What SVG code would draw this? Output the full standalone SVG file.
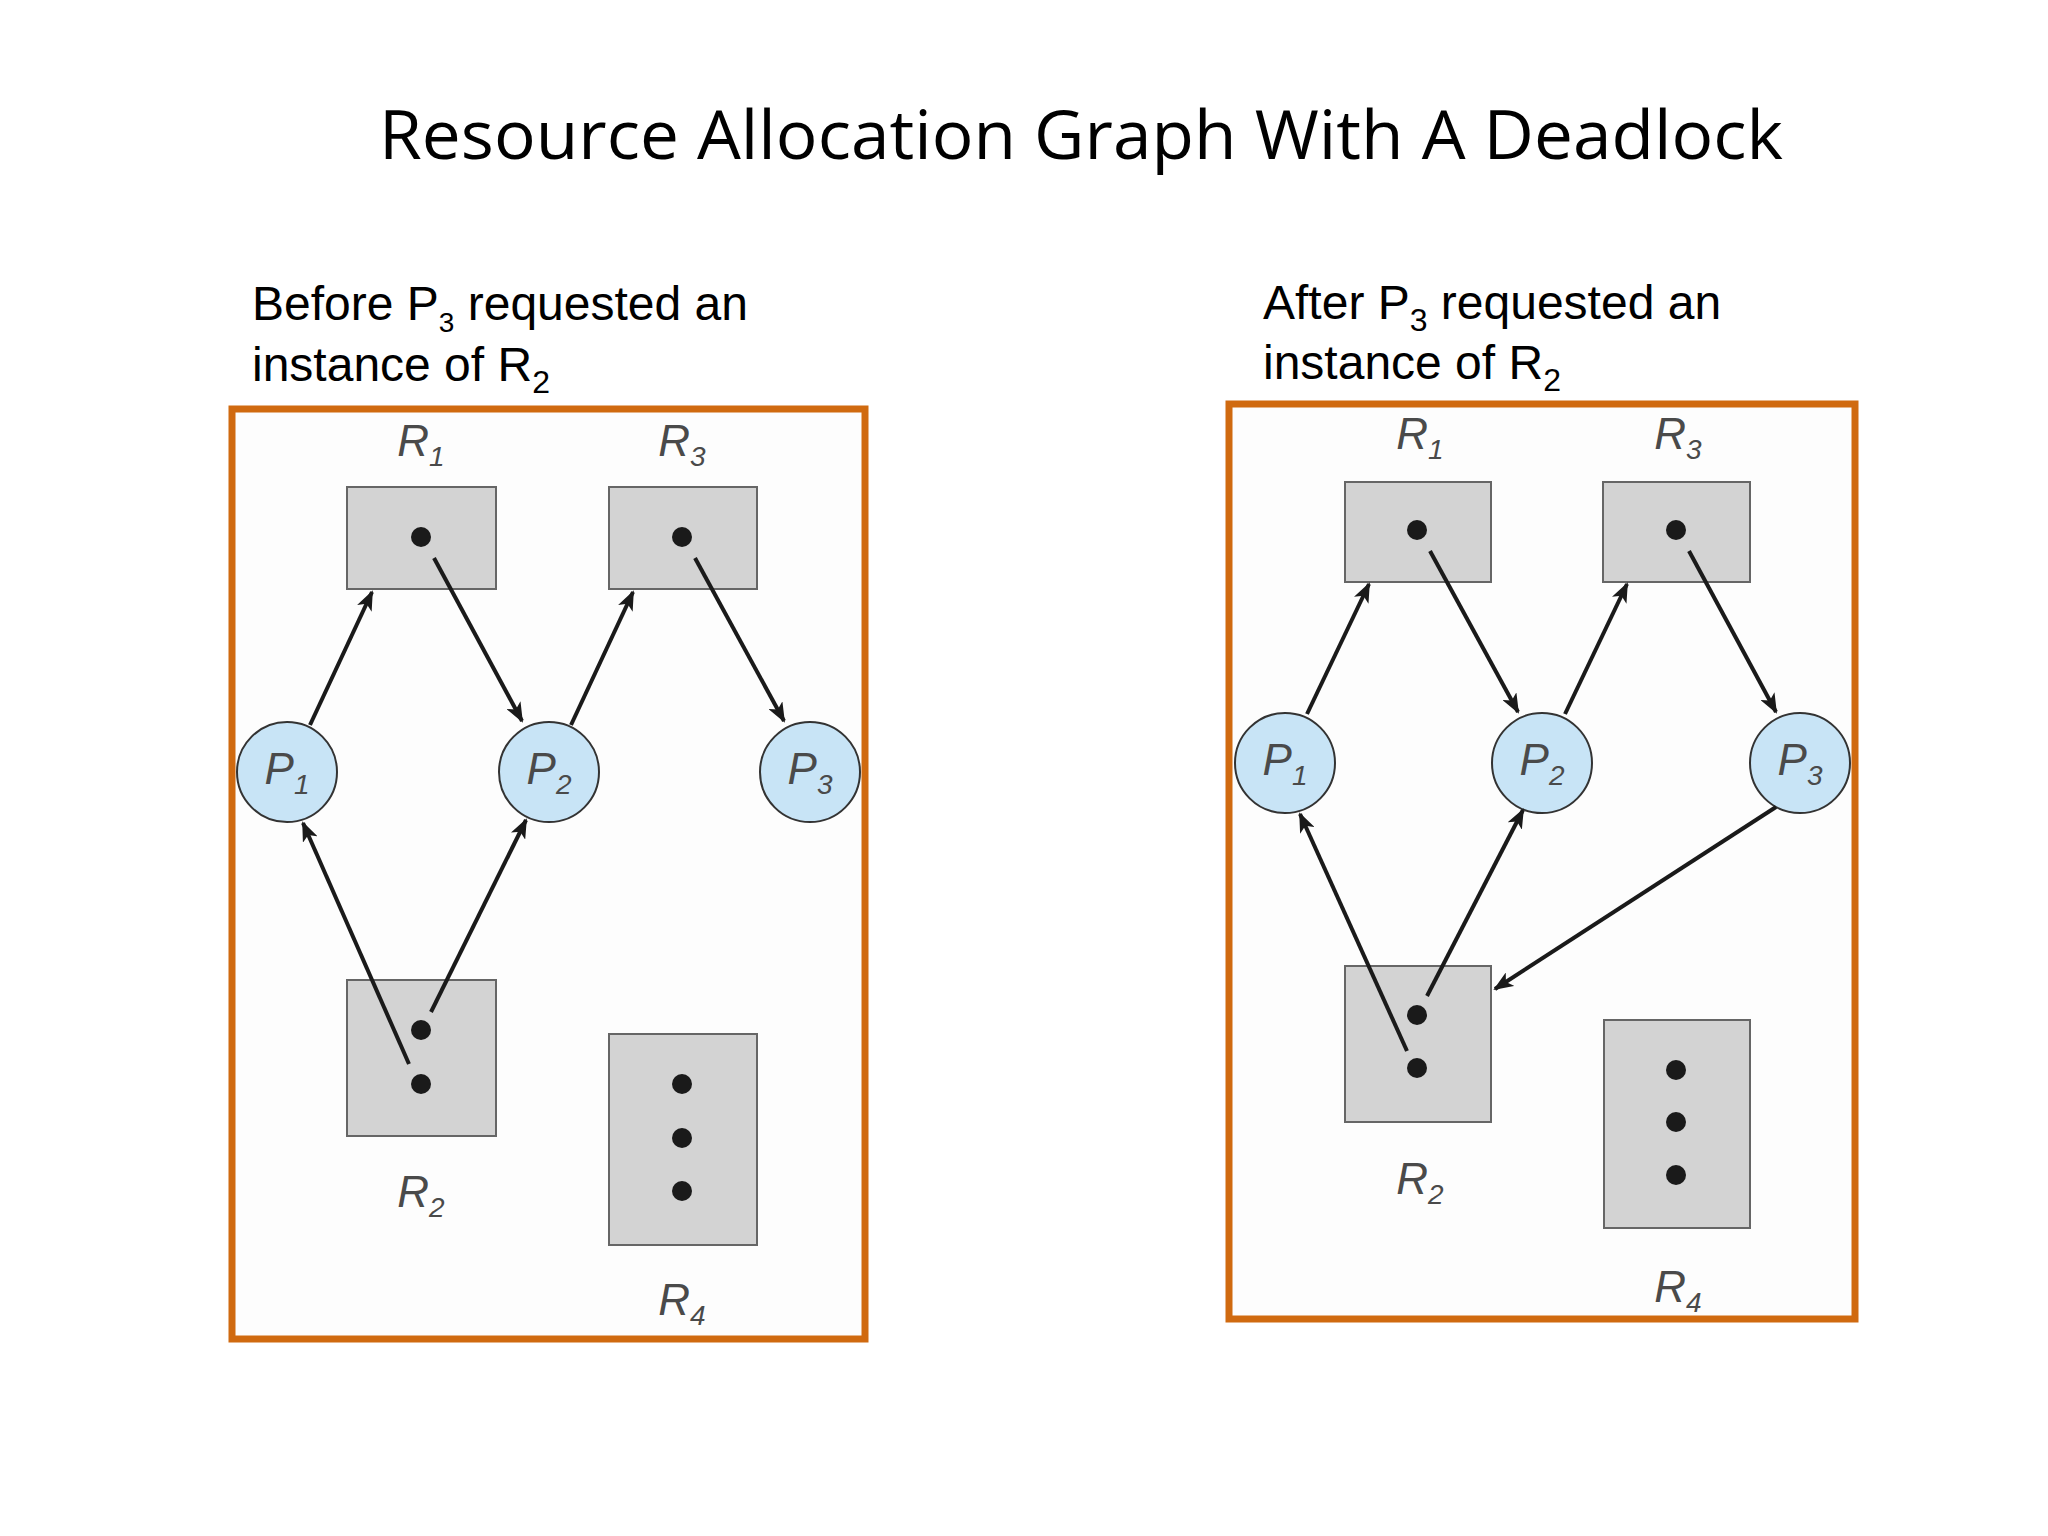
<svg xmlns="http://www.w3.org/2000/svg" width="2048" height="1536" viewBox="0 0 2048 1536">
<defs>
<marker id="ah" markerUnits="userSpaceOnUse" markerWidth="20" markerHeight="16" refX="18" refY="8" orient="auto"><path d="M0,0 L20,8 L0,16 L5,8 Z" fill="#1a1a1a"/></marker>
</defs>
<style>
.frame{fill:#fdfdfd;stroke:#D06A10;stroke-width:7}
.res{fill:#d3d3d3;stroke:#666;stroke-width:2}
.dot{fill:#1a1a1a}
.proc{fill:#c8e4f6;stroke:#333;stroke-width:2}
.lbl{font-family:"Liberation Sans",Arial,sans-serif;font-style:italic;font-size:44px;fill:#4a4a4a;text-anchor:middle}
.sub{font-size:28px}
.cap{font-family:"Liberation Sans",Arial,sans-serif;font-size:48px;fill:#000}
.e{stroke:#1a1a1a;stroke-width:4;fill:none;marker-end:url(#ah)}
</style>
<rect width="2048" height="1536" fill="#fff"/>
<text x="1081" y="159" font-family="Open Sans,Liberation Sans,sans-serif" font-size="68" text-anchor="middle" textLength="1404" lengthAdjust="spacingAndGlyphs">Resource Allocation Graph With A Deadlock</text>
<text class="cap" x="252" y="320">Before P<tspan class="sub" font-size="32" dy="12">3</tspan><tspan dy="-12"> requested an</tspan></text>
<text class="cap" x="252" y="381">instance of R<tspan font-size="32" dy="12">2</tspan></text>
<text class="cap" x="1263" y="319">After P<tspan font-size="32" dy="12">3</tspan><tspan dy="-12"> requested an</tspan></text>
<text class="cap" x="1263" y="379">instance of R<tspan font-size="32" dy="12">2</tspan></text>

<rect class="frame" x="232" y="409" width="633" height="930"/>
<rect class="frame" x="1229" y="404" width="626" height="915"/>

<g id="L_R1"><rect class="res" x="347" y="487" width="149" height="102"/><circle class="dot" cx="421" cy="537" r="10"/><text class="lbl" x="421" y="456">R<tspan class="sub" dy="10">1</tspan></text></g>
<g id="L_R3"><rect class="res" x="609" y="487" width="148" height="102"/><circle class="dot" cx="682" cy="537" r="10"/><text class="lbl" x="682" y="456">R<tspan class="sub" dy="10">3</tspan></text></g>
<g id="L_R2"><rect class="res" x="347" y="980" width="149" height="156"/><circle class="dot" cx="421" cy="1030" r="10"/><circle class="dot" cx="421" cy="1084" r="10"/><text class="lbl" x="421" y="1207">R<tspan class="sub" dy="10">2</tspan></text></g>
<g id="L_R4"><rect class="res" x="609" y="1034" width="148" height="211"/><circle class="dot" cx="682" cy="1084" r="10"/><circle class="dot" cx="682" cy="1138" r="10"/><circle class="dot" cx="682" cy="1191" r="10"/><text class="lbl" x="682" y="1315">R<tspan class="sub" dy="10">4</tspan></text></g>
<g id="L_P1"><circle class="proc" cx="287" cy="772" r="50"/><text class="lbl" x="287" y="784">P<tspan class="sub" dy="10">1</tspan></text></g>
<g id="L_P2"><circle class="proc" cx="549" cy="772" r="50"/><text class="lbl" x="549" y="784">P<tspan class="sub" dy="10">2</tspan></text></g>
<g id="L_P3"><circle class="proc" cx="810" cy="772" r="50"/><text class="lbl" x="810" y="784">P<tspan class="sub" dy="10">3</tspan></text></g>

<g id="R_R1"><rect class="res" x="1345" y="482" width="146" height="100"/><circle class="dot" cx="1417" cy="530" r="10"/><text class="lbl" x="1420" y="449">R<tspan class="sub" dy="10">1</tspan></text></g>
<g id="R_R3"><rect class="res" x="1603" y="482" width="147" height="100"/><circle class="dot" cx="1676" cy="530" r="10"/><text class="lbl" x="1678" y="449">R<tspan class="sub" dy="10">3</tspan></text></g>
<g id="R_R2"><rect class="res" x="1345" y="966" width="146" height="156"/><circle class="dot" cx="1417" cy="1015" r="10"/><circle class="dot" cx="1417" cy="1068" r="10"/><text class="lbl" x="1420" y="1194">R<tspan class="sub" dy="10">2</tspan></text></g>
<g id="R_R4"><rect class="res" x="1604" y="1020" width="146" height="208"/><circle class="dot" cx="1676" cy="1070" r="10"/><circle class="dot" cx="1676" cy="1122" r="10"/><circle class="dot" cx="1676" cy="1175" r="10"/><text class="lbl" x="1678" y="1302">R<tspan class="sub" dy="10">4</tspan></text></g>
<g id="R_P1"><circle class="proc" cx="1285" cy="763" r="50"/><text class="lbl" x="1285" y="775">P<tspan class="sub" dy="10">1</tspan></text></g>
<g id="R_P2"><circle class="proc" cx="1542" cy="763" r="50"/><text class="lbl" x="1542" y="775">P<tspan class="sub" dy="10">2</tspan></text></g>
<g id="R_P3"><circle class="proc" cx="1800" cy="763" r="50"/><text class="lbl" x="1800" y="775">P<tspan class="sub" dy="10">3</tspan></text></g>

<g id="connectors">
<line class="e" x1="310" y1="725" x2="372" y2="592"/>
<line class="e" x1="434" y1="558" x2="522" y2="721"/>
<line class="e" x1="571" y1="725" x2="633" y2="592"/>
<line class="e" x1="695" y1="558" x2="784" y2="721"/>
<line class="e" x1="409" y1="1064" x2="303" y2="823"/>
<line class="e" x1="431" y1="1012" x2="526" y2="820"/>
<line class="e" x1="1307" y1="714" x2="1369" y2="584"/>
<line class="e" x1="1430" y1="551" x2="1518" y2="712"/>
<line class="e" x1="1565" y1="714" x2="1627" y2="584"/>
<line class="e" x1="1689" y1="551" x2="1776" y2="712"/>
<line class="e" x1="1407" y1="1051" x2="1300" y2="814"/>
<line class="e" x1="1427" y1="996" x2="1523" y2="810"/>
<line class="e" x1="1776" y1="807" x2="1495" y2="989"/>
</g>
</svg>
